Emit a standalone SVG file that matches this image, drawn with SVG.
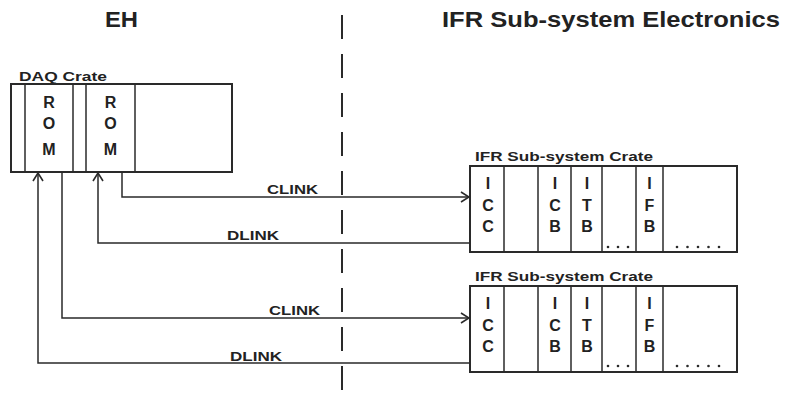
<svg xmlns="http://www.w3.org/2000/svg" width="785" height="394" viewBox="0 0 785 394">
<style>
text{font-family:"Liberation Sans",Arial,sans-serif;font-weight:bold;fill:#222}
.h{font-size:22px}
.t{font-size:12.5px}
.s{font-size:16px;text-anchor:middle}
.l{font-size:13.5px}
.box{fill:#fff;stroke:#2a2a2a;stroke-width:2}
.div{stroke:#2a2a2a;stroke-width:1.5}
.c{fill:none;stroke:#2a2a2a;stroke-width:1.5}
.dot{fill:#2a2a2a}
</style>
<defs>
<marker id="ah" viewBox="0 0 10 12" refX="9" refY="6" markerWidth="10" markerHeight="12" markerUnits="userSpaceOnUse" orient="auto">
<path d="M1,1 L9,6 L1,11" fill="none" stroke="#2a2a2a" stroke-width="1.6"/>
</marker>
</defs>
<rect width="785" height="394" fill="#fff"/>
<g id="headers">
<text class="h" x="105" y="27" textLength="33" lengthAdjust="spacingAndGlyphs">EH</text>
<text class="h" x="442" y="27" textLength="338" lengthAdjust="spacingAndGlyphs">IFR Sub-system Electronics</text>
</g>
<g id="divider">
<line x1="342" y1="15" x2="342" y2="394" stroke="#2a2a2a" stroke-width="2" stroke-dasharray="24 15"/>
</g>
<g id="daq-crate">
<text class="t" x="19" y="81" textLength="88" lengthAdjust="spacingAndGlyphs">DAQ Crate</text>
<rect class="box" x="11" y="84" width="221" height="88"/>
<line class="div" x1="25" y1="84" x2="25" y2="172"/>
<line class="div" x1="73" y1="84" x2="73" y2="172"/>
<line class="div" x1="86" y1="84" x2="86" y2="172"/>
<line class="div" x1="135" y1="84" x2="135" y2="172"/>
<text class="s" x="49" y="108">R</text>
<text class="s" x="49" y="129">O</text>
<text class="s" x="49" y="155">M</text>
<text class="s" x="110.5" y="108">R</text>
<text class="s" x="110.5" y="129">O</text>
<text class="s" x="110.5" y="155">M</text>
</g>
<g id="ifr-crate-1">
<text class="t" x="475" y="161" textLength="178" lengthAdjust="spacingAndGlyphs">IFR Sub-system Crate</text>
<rect class="box" x="470" y="166" width="267" height="86"/>
<line class="div" x1="504" y1="166" x2="504" y2="252"/>
<line class="div" x1="538" y1="166" x2="538" y2="252"/>
<line class="div" x1="571" y1="166" x2="571" y2="252"/>
<line class="div" x1="602" y1="166" x2="602" y2="252"/>
<line class="div" x1="636" y1="166" x2="636" y2="252"/>
<line class="div" x1="663" y1="166" x2="663" y2="252"/>
<text class="s" x="488" y="189">I</text><text class="s" x="488" y="211">C</text><text class="s" x="488" y="232">C</text>
<text class="s" x="555" y="189">I</text><text class="s" x="555" y="211">C</text><text class="s" x="555" y="232">B</text>
<text class="s" x="587" y="189">I</text><text class="s" x="587" y="211">T</text><text class="s" x="587" y="232">B</text>
<text class="s" x="649.5" y="189">I</text><text class="s" x="649.5" y="211">F</text><text class="s" x="649.5" y="232">B</text>
<circle class="dot" cx="608" cy="247" r="1.3"/><circle class="dot" cx="618" cy="247" r="1.3"/><circle class="dot" cx="628" cy="247" r="1.3"/>
<circle class="dot" cx="677" cy="247" r="1.3"/><circle class="dot" cx="687.5" cy="247" r="1.3"/><circle class="dot" cx="698" cy="247" r="1.3"/><circle class="dot" cx="708.5" cy="247" r="1.3"/><circle class="dot" cx="719" cy="247" r="1.3"/>
</g>
<g id="ifr-crate-2">
<text class="t" x="475" y="281" textLength="178" lengthAdjust="spacingAndGlyphs">IFR Sub-system Crate</text>
<rect class="box" x="470" y="286" width="267" height="86"/>
<line class="div" x1="504" y1="286" x2="504" y2="372"/>
<line class="div" x1="538" y1="286" x2="538" y2="372"/>
<line class="div" x1="571" y1="286" x2="571" y2="372"/>
<line class="div" x1="602" y1="286" x2="602" y2="372"/>
<line class="div" x1="636" y1="286" x2="636" y2="372"/>
<line class="div" x1="663" y1="286" x2="663" y2="372"/>
<text class="s" x="488" y="309">I</text><text class="s" x="488" y="331">C</text><text class="s" x="488" y="352">C</text>
<text class="s" x="555" y="309">I</text><text class="s" x="555" y="331">C</text><text class="s" x="555" y="352">B</text>
<text class="s" x="587" y="309">I</text><text class="s" x="587" y="331">T</text><text class="s" x="587" y="352">B</text>
<text class="s" x="649.5" y="309">I</text><text class="s" x="649.5" y="331">F</text><text class="s" x="649.5" y="352">B</text>
<circle class="dot" cx="608" cy="366" r="1.3"/><circle class="dot" cx="618" cy="366" r="1.3"/><circle class="dot" cx="628" cy="366" r="1.3"/>
<circle class="dot" cx="677" cy="366" r="1.3"/><circle class="dot" cx="687.5" cy="366" r="1.3"/><circle class="dot" cx="698" cy="366" r="1.3"/><circle class="dot" cx="708.5" cy="366" r="1.3"/><circle class="dot" cx="719" cy="366" r="1.3"/>
</g>
<g id="connectors">
<polyline class="c" points="122,172 122,197 469,197" marker-end="url(#ah)"/>
<polyline class="c" points="470,243 98,243 98,173" marker-end="url(#ah)"/>
<polyline class="c" points="62,172 62,318 469,318" marker-end="url(#ah)"/>
<polyline class="c" points="470,363 38,363 38,173" marker-end="url(#ah)"/>
<text class="l" x="267" y="194" textLength="51" lengthAdjust="spacingAndGlyphs">CLINK</text>
<text class="l" x="227" y="240" textLength="52" lengthAdjust="spacingAndGlyphs">DLINK</text>
<text class="l" x="269" y="315" textLength="51" lengthAdjust="spacingAndGlyphs">CLINK</text>
<text class="l" x="230" y="361" textLength="52" lengthAdjust="spacingAndGlyphs">DLINK</text>
</g>
</svg>
